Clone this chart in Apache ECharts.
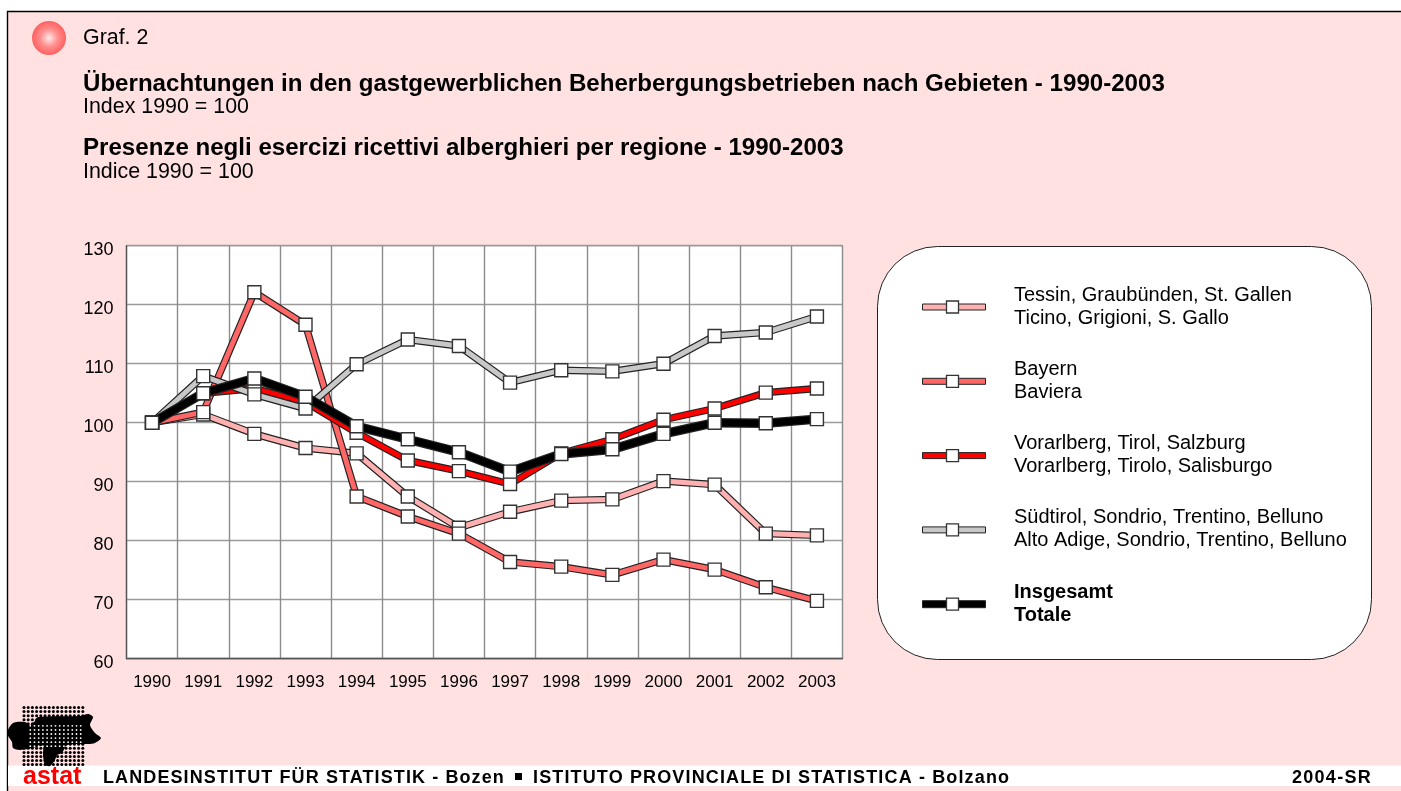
<!DOCTYPE html>
<html><head><meta charset="utf-8">
<style>html,body{margin:0;padding:0;background:#fff}#c{width:1401px;height:791px}</style>
<script src="https://cdn.jsdelivr.net/npm/echarts@6/dist/echarts.min.js"></script>
</head><body><div id="c"></div>
<script>
const years = ['1990','1991','1992','1993','1994','1995','1996','1997','1998','1999','2000','2001','2002','2003'];
const tessin = [100,101.4,98.1,95.7,94.8,87.5,82.2,84.9,86.8,87,90.1,89.5,81.2,80.9];
const bayern = [100,101.8,122.1,116.6,87.5,84.1,81.2,76.4,75.6,74.2,76.8,75.1,72.1,69.8];
const vorarlberg = [100,105,105.8,103.5,98.3,93.6,91.8,89.6,94.8,97.2,100.5,102.4,105.1,105.8];
const suedtirol = [100,107.9,104.8,102.4,109.9,114.1,113,106.8,108.9,108.7,110,114.7,115.3,118];
const insgesamt = [100,105,107.5,104.4,99.4,97.2,95,91.7,94.7,95.5,98.1,100,99.9,100.6];

const lines = [
  {de:'Tessin, Graubünden, St. Gallen', it:'Ticino, Grigioni, S. Gallo', data:tessin, color:'#ffb0b0', w:5, bold:false},
  {de:'Bayern', it:'Baviera', data:bayern, color:'#ff6666', w:5, bold:false},
  {de:'Vorarlberg, Tirol, Salzburg', it:'Vorarlberg, Tirolo, Salisburgo', data:vorarlberg, color:'#ff0000', w:5, bold:false},
  {de:'Südtirol, Sondrio, Trentino, Belluno', it:'Alto Adige, Sondrio, Trentino, Belluno', data:suedtirol, color:'#c8c8c8', w:5, bold:false},
  {de:'Insgesamt', it:'Totale', data:insgesamt, color:'#000000', w:7, bold:true}
];
const FONT = '"Liberation Sans", Arial, sans-serif';
const PINK = '#ffe1e1';
const footer = [
  ['LANDESINSTITUT FÜR STATISTIK - Bozen',103,402],
  ['ISTITUTO PROVINCIALE DI STATISTICA - Bolzano',533,477],
  ['2004-SR',1292,80]
];
const footerFont = 'bold 18px '+FONT;

// footer strings are letter-spaced: the context carries the spacing only while they are painted
const meas = document.createElement('canvas').getContext('2d');
meas.font = footerFont;
const spacing = {};
footer.forEach(f=>{ spacing[f[0]] = (f[2]-meas.measureText(f[0]).width)/f[0].length; });
const origFill = CanvasRenderingContext2D.prototype.fillText;
CanvasRenderingContext2D.prototype.fillText = function(t,x,y,m){
  const s = spacing[t];
  this.letterSpacing = s===undefined ? '0px' : s.toFixed(2)+'px';
  return m===undefined ? origFill.call(this,t,x,y) : origFill.call(this,t,x,y,m);
};

const series = [];
lines.forEach((l,i)=>{
  series.push({type:'line',name:l.de+' edge',data:l.data,z:3+i*3,showSymbol:false,silent:true,animation:false,
    lineStyle:{color:'#222',width:l.w+2.4,join:'miter'}});
  series.push({type:'line',name:l.de,data:l.data,z:4+i*3,symbol:'rect',symbolSize:13,showSymbol:true,animation:false,silent:true,
    lineStyle:{color:l.color,width:l.w,join:'miter'},
    itemStyle:{color:'#fff',borderColor:'#333',borderWidth:1.4,opacity:1}});
});

const g = [];
g.push({type:'rect',z:0,shape:{x:7.5,y:11.5,width:1400,height:790},style:{fill:PINK,stroke:'#000',lineWidth:1.4}});
g.push({type:'rect',z:1,shape:{x:8,y:765.5,width:1393,height:20.5},style:{fill:'#fff'}});
g.push({type:'circle',z:1,shape:{cx:49,cy:38,r:17},style:{fill:new echarts.graphic.RadialGradient(0.5,0.5,0.5,[{offset:0,color:'#ffeaea'},{offset:0.5,color:'#ff9090'},{offset:1,color:'#ff6060'}])}});
const texts = [
  ['Graf. 2',83,38,21.4,false],
  ['Übernachtungen in den gastgewerblichen Beherbergungsbetrieben nach Gebieten - 1990-2003',83,84,24.1,true],
  ['Index 1990 = 100',83,107,21.4,false],
  ['Presenze negli esercizi ricettivi alberghieri per regione - 1990-2003',83,148,24.1,true],
  ['Indice 1990 = 100',83,172,21.4,false]
];
texts.forEach(t=>g.push({type:'text',z:2,style:{text:t[0],x:t[1],y:t[2],fill:'#000',font:(t[4]?'bold ':'')+t[3]+'px '+FONT,verticalAlign:'middle'}}));
g.push({type:'rect',z:1,shape:{x:877.5,y:246.5,width:494,height:413,r:60},style:{fill:'#fff',stroke:'#222',lineWidth:1}});
lines.forEach((l,i)=>{
  const cy = 307 + i*74.3;
  const h = l.bold ? 7 : 6;
  g.push({type:'rect',z:2,shape:{x:922.5,y:cy-h/2,width:63,height:h},style:{fill:l.color,stroke:'#222',lineWidth:1}});
  g.push({type:'rect',z:3,shape:{x:946.5,y:cy-6,width:12,height:12},style:{fill:'#fff',stroke:'#333',lineWidth:1.3}});
  g.push({type:'text',z:3,style:{text:l.de,x:1014,y:cy-12,fill:'#000',font:(l.bold?'bold ':'')+'20px '+FONT,verticalAlign:'middle'}});
  g.push({type:'text',z:3,style:{text:l.it,x:1014,y:cy+11,fill:'#000',font:(l.bold?'bold ':'')+'20px '+FONT,verticalAlign:'middle'}});
});
// logo
for(let r=0;r<15;r++){for(let c=0;c<15;c++){
  g.push({type:'circle',z:2,silent:true,shape:{cx:24+c*4.2,cy:707.5+r*4.08,r:1.5},style:{fill:'#000'}});
}}
g.push({type:'polygon',z:2,silent:true,shape:{smooth:0.25,points:[[7,733],[13,723],[25,722],[30,725],[35,721],[38,717],[80,716],[88,714],[93,717],[90,725],[95,733],[101,738],[95,743],[88,744],[67,745],[62,753],[57,755],[55,760],[50,766],[45,765],[43,755],[43,746],[37,747],[20,750],[13,748],[12,742]]},style:{fill:'#000'}});
for(let r=4;r<10;r++){for(let c=1;c<14;c++){
  g.push({type:'circle',z:3,silent:true,shape:{cx:26.1+c*4.2,cy:709.5+r*4.08,r:0.9},style:{fill:'#fff'}});
}}
g.push({type:'text',z:3,style:{text:'astat',x:23,y:777,fill:'#ff0000',font:'bold 25px '+FONT,verticalAlign:'middle'}});
footer.forEach(f=>{
  g.push({type:'text',z:3,style:{text:f[0],x:f[1],y:778,fill:'#000',font:footerFont,verticalAlign:'middle'}});
});
g.push({type:'rect',z:3,shape:{x:515,y:773,width:7,height:7},style:{fill:'#000'}});

const chart = echarts.init(document.getElementById('c'),null,{renderer:'canvas'});
chart.setOption({
  animation:false,
  backgroundColor:'#fff',
  textStyle:{fontFamily:FONT},
  grid:{left:126.5,top:245.7,width:716,height:413,backgroundColor:'#fff',show:true,borderColor:'#555',borderWidth:1,z:2},
  xAxis:{type:'category',data:years,boundaryGap:true,z:3,
    axisLine:{show:true,lineStyle:{color:'#555',width:1.3}},
    axisTick:{show:false},
    splitLine:{show:true,interval:0,lineStyle:{color:'#8c8c8c',width:1.4}},
    axisLabel:{color:'#000',fontSize:17,margin:15,interval:0,fontFamily:FONT}},
  yAxis:{type:'value',min:60,max:130,interval:10,z:3,
    axisLine:{show:true,lineStyle:{color:'#555',width:1.3}},
    axisTick:{show:false},
    splitLine:{show:true,lineStyle:{color:'#9a9a9a',width:1.4}},
    axisLabel:{color:'#000',fontSize:18,margin:13,verticalAlign:'top',lineHeight:8,fontFamily:FONT}},
  series:series,
  graphic:{elements:g}
});
</script></body></html>
